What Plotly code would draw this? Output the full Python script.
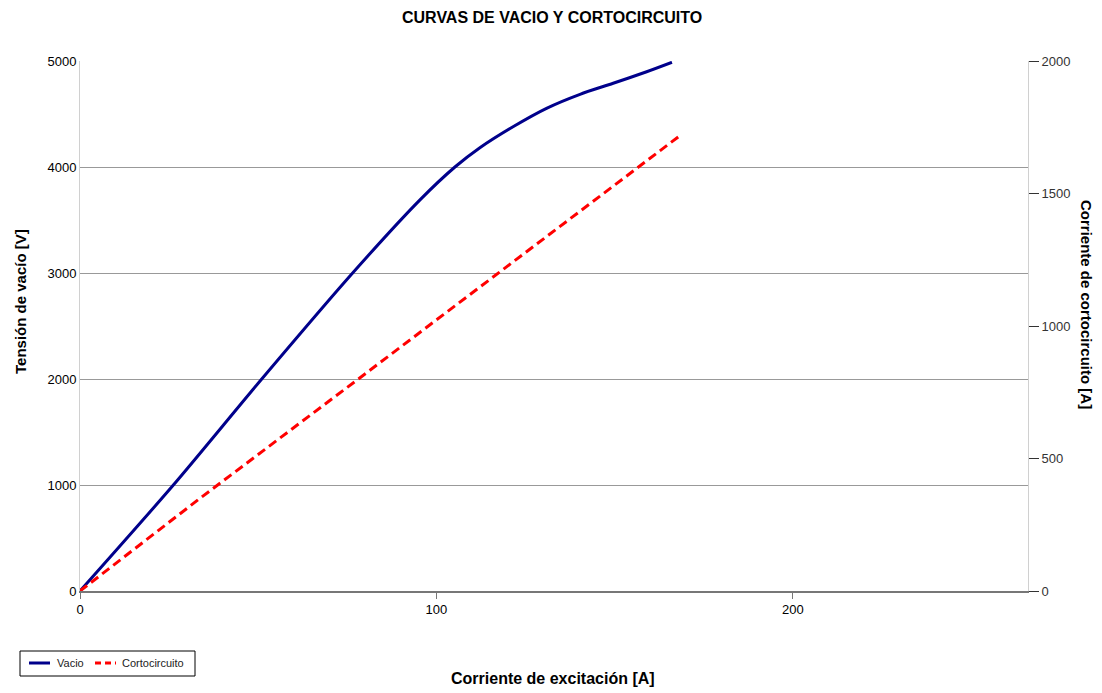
import plotly.graph_objects as go

# Open-circuit (vacío) characteristic: excitation current [A] vs voltage [V]
i_vacio = [0, 26.2, 51.0, 76.5, 95.4, 105.2, 112.2, 121.5, 130.9, 140.3, 149.6, 159.0, 166.1]
v_vacio = [0, 1000, 2000, 3000, 3690, 4000, 4182, 4380, 4554, 4686, 4790, 4899, 4988]

# Short-circuit characteristic: excitation current [A] vs short-circuit current [A]
i_cc = [0, 33.7, 78.1, 120, 168.5]
icc = [0, 350, 800, 1225, 1720]

x_ticks = [0, 100, 200]
y_ticks = [0, 1000, 2000, 3000, 4000, 5000]
y2_ticks = [0, 500, 1000, 1500, 2000]

FONT = "Liberation Sans, Arial, sans-serif"
VACIO_COLOR = "#00008B"
CC_COLOR = "#FF0000"
CC_DASH = "9px,5px"

# plot area in pixels, used to place the legend box and titles
L, R, T, B = 80, 1028, 61, 591


def px(x):
    return (x - L) / (R - L)


def py(y):
    return (B - y) / (B - T)


fig = go.Figure()
fig.add_trace(go.Scatter(
    x=i_vacio, y=v_vacio, name="Vacio", mode="lines",
    line=dict(color=VACIO_COLOR, width=3, shape="spline", smoothing=0.8),
))
fig.add_trace(go.Scatter(
    x=i_cc, y=icc, name="Cortocircuito", mode="lines", yaxis="y2",
    line=dict(color=CC_COLOR, width=3, dash=CC_DASH),
))

# compact boxed legend below the plot
legend_shapes = [
    dict(type="rect", xref="paper", yref="paper", x0=px(20), x1=px(195),
         y0=py(651), y1=py(676), line=dict(color="black", width=1),
         fillcolor="white", layer="above"),
    dict(type="line", xref="paper", yref="paper", x0=px(29), x1=px(50),
         y0=py(663), y1=py(663), line=dict(color=VACIO_COLOR, width=3)),
    dict(type="line", xref="paper", yref="paper", x0=px(95), x1=px(116),
         y0=py(663), y1=py(663), line=dict(color=CC_COLOR, width=3, dash="6px,4px")),
]
legend_labels = [
    dict(text="Vacio", xref="paper", yref="paper", x=px(55), y=py(663),
         xanchor="left", yanchor="middle", showarrow=False,
         font=dict(size=11, color="#222")),
    dict(text="Cortocircuito", xref="paper", yref="paper", x=px(120), y=py(663),
         xanchor="left", yanchor="middle", showarrow=False,
         font=dict(size=11, color="#222")),
]

titles = [
    dict(text="<b>CURVAS DE VACIO Y CORTOCIRCUITO</b>", xref="paper", yref="paper",
         x=px(552), y=py(18), yanchor="middle", xanchor="center",
         showarrow=False, font=dict(size=16, color="black")),
    dict(text="<b>Corriente de excitación [A]</b>", xref="paper", yref="paper",
         x=px(553), y=py(678), yanchor="middle", xanchor="center",
         showarrow=False, font=dict(size=16, color="black")),
    dict(text="<b>Tensión de vacío [V]</b>", xref="paper", yref="paper",
         x=px(20), y=py(301), yanchor="middle", xanchor="center",
         textangle=-90, showarrow=False, font=dict(size=15, color="black")),
    dict(text="<b>Corriente de cortocircuito [A]</b>", xref="paper", yref="paper",
         x=px(1087), y=py(304), yanchor="middle", xanchor="center",
         textangle=90, showarrow=False, font=dict(size=15, color="black")),
]

fig.update_layout(
    width=1102, height=693,
    margin=dict(l=L, r=1102 - R, t=T, b=693 - B),
    paper_bgcolor="white", plot_bgcolor="white",
    font=dict(family=FONT, size=13, color="black"),
    showlegend=False,
    xaxis=dict(
        range=[0, 266], tickvals=x_ticks, ticks="outside", ticklen=6,
        tickcolor="#777", showline=True, linecolor="#777", linewidth=1.5,
        showgrid=False, zeroline=False, tickfont=dict(size=13, color="black"),
    ),
    yaxis=dict(
        range=[0, 5000], tickvals=y_ticks, showgrid=True, gridcolor="#999",
        gridwidth=1, showline=True, linecolor="#d0d0d0", zeroline=False,
        ticks="", tickfont=dict(size=13, color="black"),
    ),
    yaxis2=dict(
        range=[0, 2000], tickvals=y2_ticks, overlaying="y", side="right",
        showgrid=False, showline=True, linecolor="#d0d0d0", zeroline=False,
        ticks="outside", ticklen=10, tickcolor="#333",
        tickfont=dict(size=13, color="#333"),
    ),
    shapes=legend_shapes,
    annotations=titles + legend_labels,
)

fig.write_html("out.html")
